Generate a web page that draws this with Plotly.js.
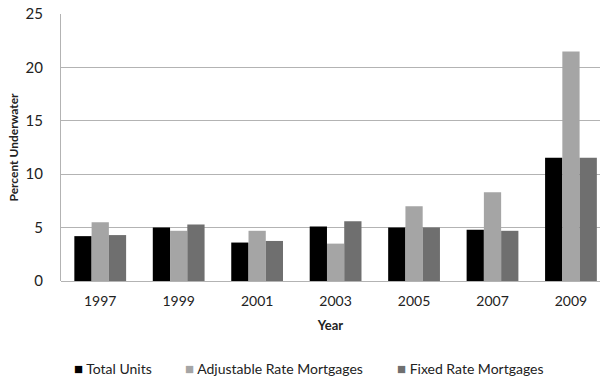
<!DOCTYPE html>
<html><head><meta charset="utf-8">
<script src="https://cdn.plot.ly/plotly-3.0.1.min.js"></script>
<style>html,body{margin:0;padding:0;background:#fff;overflow:hidden}</style>
</head><body><div id="chart" style="width:600px;height:380px"></div>
<script>
var years = ['1997','1999','2001','2003','2005','2007','2009'];
var totalUnits = [4.2, 5.0, 3.6, 5.1, 5.0, 4.8, 11.55];
var adjustableRate = [5.5, 4.7, 4.7, 3.5, 7.0, 8.3, 21.5];
var fixedRate = [4.3, 5.3, 3.75, 5.6, 5.0, 4.7, 11.55];
var seriesNames = ['Total Units', 'Adjustable Rate Mortgages', 'Fixed Rate Mortgages'];
var yTicks = [0, 5, 10, 15, 20, 25];

var font = 'Lato, "Open Sans", sans-serif';
var colors = ['#000000', '#a5a5a5', '#6f6f6f'];
var legendX = [0.02, 0.226, 0.62];
var data = [totalUnits, adjustableRate, fixedRate].map(function (vals, i) {
  return {type: 'bar', x: years, y: vals, name: seriesNames[i],
    marker: {color: colors[i], line: {width: 0}}, hoverinfo: 'none'};
});
var annotations = seriesNames.map(function (name, i) {
  return {xref: 'paper', yref: 'paper', x: legendX[i], y: -0.326, xanchor: 'left', yanchor: 'middle',
    showarrow: false, font: {size: 14, color: '#222', family: font},
    text: '<span style="color:' + colors[i] + ';font-size:15px">■</span> ' + name};
});
var layout = {
  width: 600, height: 380,
  margin: {l: 61, r: 0, t: 14, b: 99},
  paper_bgcolor: '#fff', plot_bgcolor: '#fff',
  barmode: 'group', bargap: 0.34, bargroupgap: 0,
  font: {family: font, size: 14, color: '#222'},
  showlegend: false,
  annotations: annotations,
  xaxis: {type: 'category', range: [-0.5, 6.37], showline: false, showgrid: false,
    ticks: '', ticklabelstandoff: 10, tickfont: {size: 14, color: '#222'},
    title: {text: '<b>Year</b>', font: {size: 13, color: '#222'}, standoff: 12}},
  yaxis: {range: [0, 25], tickvals: yTicks, showgrid: true, gridcolor: '#b3b3b3', gridwidth: 1,
    zeroline: true, zerolinecolor: '#b3b3b3', zerolinewidth: 1,
    showline: true, linecolor: '#b3b3b3', linewidth: 1,
    ticks: '', ticklabelstandoff: 14, tickfont: {size: 15, color: '#222'},
    title: {text: '<b>Percent Underwater</b>', font: {size: 12, color: '#222'}, standoff: 4}}
};
Plotly.newPlot('chart', data, layout, {staticPlot: true, displayModeBar: false});
</script></body></html>
